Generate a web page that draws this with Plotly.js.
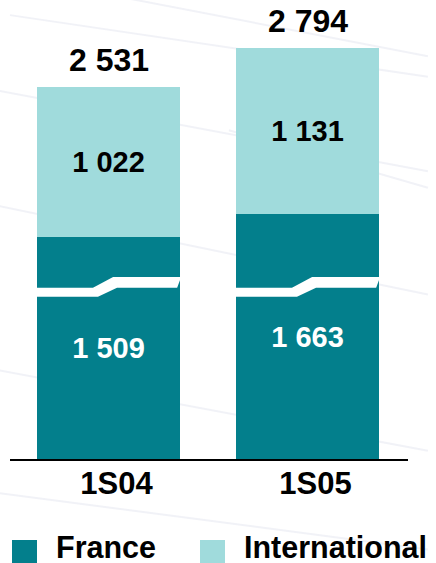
<!DOCTYPE html>
<html>
<head>
<meta charset="utf-8">
<script src="https://cdn.plot.ly/plotly-3.0.1.min.js"></script>
<style>
  html, body { margin: 0; padding: 0; background: #ffffff; }
  #chart { width: 436px; height: 563px; }
</style>
</head>
<body>
<div id="chart"></div>
<script>
// ---- data ----
const categories = ["1S04", "1S05"];
const seriesNames = ["France", "International"];
const franceValues = [1509, 1663];
const internationalValues = [1022, 1131];
const totals = [2531, 2794];

// ---- styles ----
const FONT = "Liberation Sans, Arial, sans-serif";
const colFrance = "#037F8C";
const colIntl = "#A0DBDC";

function fmt(v) {
  return String(v).replace(/\B(?=(\d{3})+(?!\d))/g, " ");
}

const xIdx = categories.map((c, i) => i);

const traces = [
  {
    type: "bar", name: seriesNames[0], x: xIdx, y: franceValues,
    marker: { color: colFrance, line: { width: 0 } },
    text: franceValues.map(fmt), textposition: "inside", insidetextanchor: "middle",
    textangle: 0, constraintext: "none",
    textfont: { family: FONT, size: 29, color: "#ffffff", weight: "bold" },
    hoverinfo: "skip", showlegend: false
  },
  {
    type: "bar", name: seriesNames[1], x: xIdx, y: internationalValues,
    marker: { color: colIntl, line: { width: 0 } },
    text: internationalValues.map(fmt), textposition: "inside", insidetextanchor: "middle",
    textangle: 0, constraintext: "none",
    textfont: { family: FONT, size: 29, color: "#000000", weight: "bold" },
    hoverinfo: "skip", showlegend: false
  }
];

// axis-break decoration (white zigzag band across the France segment)
const brkLow = 1103, brkMid = 1164, brkHigh = 1237;
const shapes = [];
// faint background curves
const bgLines = [
  [0.0, 1.08, 1.05, 0.93], [-0.05, 0.90, 1.05, 0.70], [0.3, 1.12, 1.05, 0.98],
  [-0.05, 0.62, 1.05, 0.40], [-0.05, 0.22, 1.05, 0.02], [-0.05, -0.08, 1.05, -0.22],
  [0.55, 0.80, 1.05, 0.66]
];
bgLines.forEach(l => shapes.push({
  type: "line", xref: "paper", yref: "paper", x0: l[0], y0: l[1], x1: l[2], y1: l[3],
  line: { color: "rgba(205,210,225,0.28)", width: 2 }, layer: "below"
}));
xIdx.forEach(c => {
  const p = [
    [c - 0.362, brkMid], [c - 0.078, brkMid], [c + 0.023, brkHigh], [c + 0.365, brkHigh],
    [c + 0.345, brkMid], [c + 0.043, brkMid], [c - 0.053, brkLow], [c - 0.362, brkLow]
  ];
  shapes.push({
    type: "path", xref: "x", yref: "y",
    path: "M" + p.map(q => q[0] + "," + q[1]).join(" L") + " Z",
    fillcolor: "#ffffff", line: { width: 0 }, layer: "above"
  });
});

// custom legend
const legendColors = [colFrance, colIntl];
const legendX = [0, 188];   // px offsets within plot
const plotW = 398, plotH = 411;
const annotations = [];
seriesNames.forEach((n, i) => {
  const x0 = (2 + legendX[i]) / plotW;
  shapes.push({
    type: "rect", xref: "paper", yref: "paper",
    x0: x0, x1: x0 + 25 / plotW, y0: -105 / plotH, y1: -81 / plotH,
    fillcolor: legendColors[i], line: { width: 0 }
  });
  annotations.push({
    xref: "paper", yref: "paper", x: x0 + 42 / plotW, y: -88 / plotH,
    xanchor: "left", yanchor: "middle", showarrow: false, text: n,
    font: { family: FONT, size: 30.5, color: "#000000", weight: "bold" }
  });
});
// totals
totals.forEach((t, i) => annotations.push({
  x: xIdx[i], y: t, xref: "x", yref: "y", text: fmt(t), showarrow: false,
  yanchor: "middle", yshift: 27,
  font: { family: FONT, size: 32, color: "#000000", weight: "bold" }
}));

const layout = {
  width: 436, height: 563,
  margin: { l: 10, r: 28, t: 48, b: 104, pad: 0 },
  paper_bgcolor: "#ffffff", plot_bgcolor: "rgba(0,0,0,0)",
  barmode: "stack", bargap: 0.285,
  showlegend: false,
  xaxis: {
    range: [-0.495, 1.505], tickvals: xIdx, ticktext: categories,
    showgrid: false, zeroline: false, showline: true, linecolor: "#000000", linewidth: 2,
    ticks: "", ticklabelstandoff: -4, ticklabelshift: 8,
    tickfont: { family: FONT, size: 31, color: "#000000", weight: "bold" },
    fixedrange: true
  },
  yaxis: {
    range: [0, 2794], visible: false, showgrid: false, zeroline: false, fixedrange: true
  },
  shapes: shapes,
  annotations: annotations
};

Plotly.newPlot("chart", traces, layout, { staticPlot: true, displayModeBar: false });
</script>
</body>
</html>
